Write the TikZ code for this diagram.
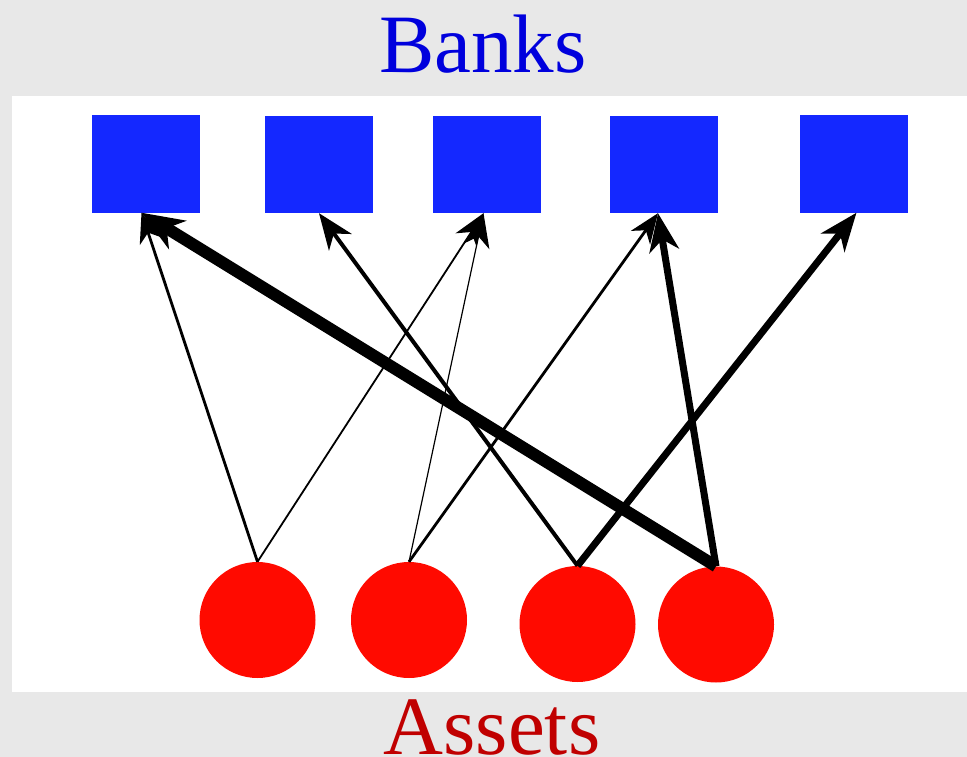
\documentclass[tikz,border=0pt]{standalone}
\usepackage{fontspec}
\setmainfont{Liberation Serif}
\usetikzlibrary{arrows.meta}
\definecolor{pagegray}{HTML}{E8E8E8}
\definecolor{bankblue}{HTML}{1428FF}
\definecolor{assetred}{HTML}{FF0A00}
\definecolor{titleblue}{HTML}{0000DD}
\definecolor{titlered}{HTML}{C00000}
\begin{document}
\begin{tikzpicture}[x=1pt,y=-1pt,
  bank/.style={rectangle,fill=bankblue,draw=none,minimum width=108pt,minimum height=97pt,inner sep=0pt},
  asset/.style={circle,fill=assetred,draw=none,minimum size=116pt,inner sep=0pt},
  title/.style={font=\fontsize{83}{90}\selectfont,anchor=base,inner sep=0pt},
  link/.style={draw=black,-{Stealth[length=#1pt,width=#1pt*0.78,inset=#1pt*0.3]}},
  w1/.style={line width=1.2pt,link=34},
  w2/.style={line width=1.8pt,link=32},
  w3/.style={line width=2.8pt,link=30},
  w4/.style={line width=4pt,link=36},
  w6/.style={line width=7pt,link=38},
  w10/.style={line width=12pt,link=42}]
  % page and panel
  \fill[pagegray] (0,0) rectangle (967,757);
  \fill[white] (12,96) rectangle (967,692);
  \useasboundingbox (0,0) rectangle (967,757);

  % titles
  \node[title,text=titleblue] (banks) at (483,73) {Banks};
  \node[title,text=titlered] (assets) at (492,754) {Assets};

  % banks
  \node[bank] (s1) at (145.5,164) {};
  \node[bank] (s2) at (319,164.5) {};
  \node[bank] (s3) at (486.5,164.5) {};
  \node[bank] (s4) at (664,164.5) {};
  \node[bank] (s5) at (853.5,164) {};

  % assets
  \node[asset] (c1) at (257.5,620) {};
  \node[asset] (c2) at (409,620) {};
  \node[asset] (c3) at (577.5,624) {};
  \node[asset] (c4) at (716,624.5) {};

  % holdings, drawn from asset to bank
  \draw[w3] (c1.north) -- ([xshift=-4pt]s1.south);
  \draw[w2] (c1.north) -- ([xshift=-3pt]s3.south);
  \draw[w1] (c2.north) -- ([xshift=-3pt]s3.south);
  \draw[w3] (c2.north) -- ([xshift=-6pt]s4.south);
  \draw[w4] (c3.north) -- (s2.south);
  \draw[w6] (c3.north) -- ([xshift=3pt]s5.south);
  \draw[w6] (c4.north) -- ([xshift=-6pt]s4.south);
  \draw[w10] (c4.north) -- ([xshift=-4pt]s1.south);
\end{tikzpicture}
\end{document}
